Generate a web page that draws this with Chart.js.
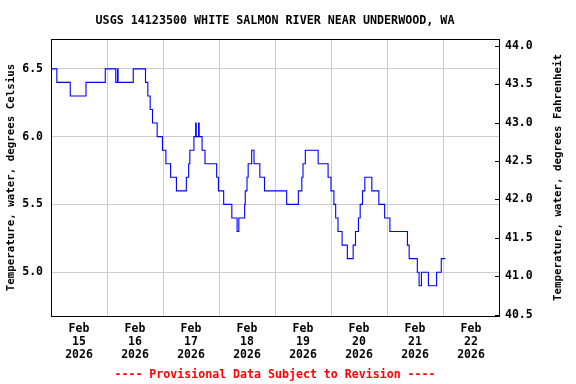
<!DOCTYPE html>
<html><head><meta charset="utf-8">
<script src="https://cdn.jsdelivr.net/npm/chart.js@4.4.1/dist/chart.umd.min.js"></script>
<style>html,body{margin:0;padding:0;background:#fff;}#wrap{width:576px;height:384px;}</style>
</head><body><div id="wrap"><canvas id="c" width="576" height="384"></canvas></div>
<script>
const titleText = 'USGS 14123500 WHITE SALMON RIVER NEAR UNDERWOOD, WA';
const footerText = '---- Provisional Data Subject to Revision ----';
const leftAxisTitle = 'Temperature, water, degrees Celsius';
const rightAxisTitle = 'Temperature, water, degrees Fahrenheit';
const dayMonth = ['Feb','Feb','Feb','Feb','Feb','Feb','Feb','Feb'];
const dayNumbers = ['15','16','17','18','19','20','21','22'];
const dayYears = ['2026','2026','2026','2026','2026','2026','2026','2026'];
const celsiusTicks = [5.0, 5.5, 6.0, 6.5];
const fahrenheitTicks = [40.5, 41.0, 41.5, 42.0, 42.5, 43.0, 43.5, 44.0];
// hours since Feb 15 2026 00:00 at which the reading changes
const hoursSinceFeb15 = [0, 2.5, 8.25, 15, 23.25, 27.75, 28.5, 28.75, 35.25, 40.5,
  41.5, 42.5, 43.5, 45.5, 47.75, 49.25, 51.25, 53.75, 58, 59,
  59.5, 61.25, 62, 62.25, 63.25, 63.5, 64.75, 66, 71, 71.75,
  74, 77.5, 79.75, 80.5, 83, 83.25, 84, 84.5, 86, 87,
  89.5, 91.5, 101, 106, 107.5, 108, 109, 114.5, 118.75, 120,
  121.25, 122, 123, 124.75, 127, 129.5, 130.5, 131.75, 132.5, 133.5,
  134.5, 137.5, 140.5, 143, 145.25, 152.75, 153.5, 157, 157.75, 158.75,
  161.75, 165.25, 167.25, 169];
const tempC = [6.5, 6.4, 6.3, 6.4, 6.5, 6.4, 6.5, 6.4, 6.5, 6.4,
  6.3, 6.2, 6.1, 6.0, 5.9, 5.8, 5.7, 5.6, 5.7, 5.8,
  5.9, 6.0, 6.1, 6.0, 6.1, 6.0, 5.9, 5.8, 5.7, 5.6,
  5.5, 5.4, 5.3, 5.4, 5.5, 5.6, 5.7, 5.8, 5.9, 5.8,
  5.7, 5.6, 5.5, 5.6, 5.7, 5.8, 5.9, 5.8, 5.7, 5.6,
  5.5, 5.4, 5.3, 5.2, 5.1, 5.2, 5.3, 5.4, 5.5, 5.6,
  5.7, 5.6, 5.5, 5.4, 5.3, 5.2, 5.1, 5.0, 4.9, 5.0,
  4.9, 5.0, 5.1, 5.1];
const labelHours = [12, 36, 60, 84, 108, 132, 156, 180];

const FONT = '"DejaVu Sans Mono", "Liberation Mono", monospace';
const points = hoursSinceFeb15.map((h, i) => ({x: h, y: tempC[i]}));

const decor = {
  id: 'decor',
  afterDraw(chart) {
    const ctx = chart.ctx, a = chart.chartArea;
    ctx.save();
    ctx.strokeStyle = '#000'; ctx.lineWidth = 1;
    ctx.beginPath();
    ctx.moveTo(a.left, Math.round(a.top) + 0.5);
    ctx.lineTo(a.right + 1, Math.round(a.top) + 0.5);
    ctx.stroke();
    const y2 = chart.scales.y2;
    ctx.beginPath();
    y2.ticks.forEach(t => {
      const p = Math.round(y2.getPixelForValue(t.value)) + 0.5;
      ctx.moveTo(a.right - 4, p); ctx.lineTo(a.right, p);
    });
    ctx.stroke();
    const cx = (a.left + a.right) / 2;
    ctx.textAlign = 'center'; ctx.textBaseline = 'middle';
    ctx.fillStyle = '#000';
    ctx.font = 'bold 11.7px ' + FONT;
    ctx.fillText(titleText, cx, 21);
    ctx.fillStyle = '#ff0000';
    ctx.font = 'bold 11.6px ' + FONT;
    ctx.fillText(footerText, cx, 375);
    ctx.fillStyle = '#000';
    ctx.font = 'bold 10.8px ' + FONT;
    const cy = (a.top + a.bottom) / 2;
    ctx.save(); ctx.translate(11, cy); ctx.rotate(-Math.PI / 2);
    ctx.fillText(leftAxisTitle, 0, 0); ctx.restore();
    ctx.save(); ctx.translate(558, cy); ctx.rotate(-Math.PI / 2);
    ctx.fillText(rightAxisTitle, 0, 0); ctx.restore();
    ctx.restore();
  }
};

new Chart(document.getElementById('c'), {
  type: 'line',
  data: { datasets: [{
    data: points, stepped: true, borderColor: '#0000ff', borderWidth: 1.1,
    pointRadius: 0, fill: false, yAxisID: 'y', xAxisID: 'x'
  }]},
  options: {
    responsive: false, animation: false, devicePixelRatio: 1,
    layout: { padding: { top: 39, left: 0, right: 0, bottom: 0 } },
    plugins: { legend: { display: false }, title: { display: false }, tooltip: { enabled: false } },
    scales: {
      x: {
        type: 'linear', min: 0, max: 192, position: 'bottom',
        afterBuildTicks: s => { s.ticks = labelHours.map(v => ({value: v})); },
        afterFit: s => { s.height = 68; },
        grid: { offset: true, color: '#cccccc', lineWidth: 1, drawTicks: false },
        border: { color: '#000', width: 1 },
        ticks: {
          autoSkip: false, maxRotation: 0, padding: 7, color: '#000',
          font: { family: FONT, size: 11.5, weight: 'bold', lineHeight: 1.13 },
          callback: (v, i) => [dayMonth[i], dayNumbers[i], dayYears[i]]
        }
      },
      y: {
        type: 'linear', position: 'left', min: 4.677, max: 6.72,
        afterBuildTicks: s => { s.ticks = celsiusTicks.map(v => ({value: v})); },
        afterFit: s => { s.width = 51; },
        grid: { color: '#cccccc', lineWidth: 1, drawTicks: false },
        border: { color: '#000', width: 1 },
        ticks: { padding: 8, color: '#000',
          font: { family: FONT, size: 11.5, weight: 'bold' },
          callback: v => Number(v).toFixed(1) }
      },
      y2: {
        type: 'linear', position: 'right', min: 40.483, max: 44.087,
        afterBuildTicks: s => { s.ticks = fahrenheitTicks.map(v => ({value: v})); },
        afterFit: s => { s.width = 77; },
        grid: { drawOnChartArea: false, drawTicks: false },
        border: { color: '#000', width: 1 },
        ticks: { padding: 6, color: '#000',
          font: { family: FONT, size: 11.5, weight: 'bold' },
          callback: v => Number(v).toFixed(1) }
      }
    }
  },
  plugins: [decor]
});
</script>
</body></html>
